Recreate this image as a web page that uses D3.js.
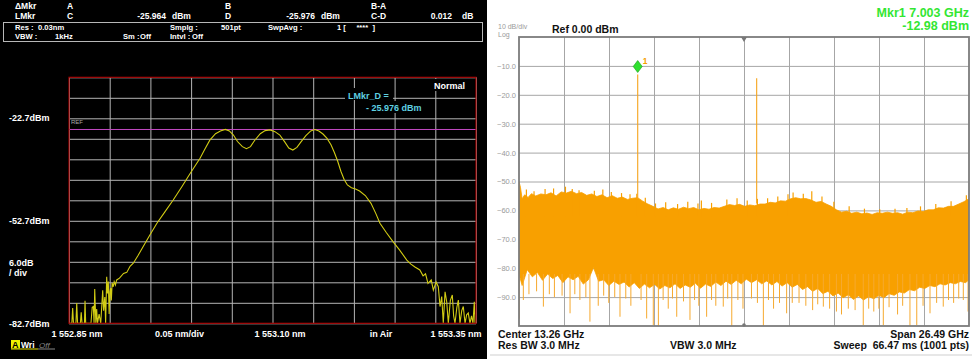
<!DOCTYPE html>
<html><head><meta charset="utf-8">
<script src="https://cdn.jsdelivr.net/npm/d3@7/dist/d3.min.js"></script>
<style>
body{margin:0;background:#fff}
text{font-family:"Liberation Sans",Arial,sans-serif;white-space:pre}
</style>
</head><body>
<svg id="chart" width="976" height="359"></svg>
<script>
// ---- left screen: optical spectrum (nm / dBm)
const osaNm = [1552.850,1552.8535,1552.8545,1552.8555,1552.8585,1552.8595,1552.8605,1552.8640,1552.8650,1552.8660,
  1552.8690,1552.8697,1552.8705,1552.8770,1552.8785,1552.8799,1552.8808,1552.8816,1552.8830,1552.8840,1552.8850,
  1552.8870,1552.8890,1552.8914,1552.8925,1552.8940,1552.8950,1552.8963,1552.8973,1552.8983,1552.8993,1552.9003,
  1552.9012,1552.9020,1552.9030,1552.9044,1552.9055,1552.9070,1552.9086,
  1552.912,1552.917,1552.921,1552.925,1552.929,1552.935,1552.941,1552.949,1552.958,1552.968,1552.978,1552.989,1552.999,
  1553.005,1553.011,1553.017,1553.023,1553.030,1553.036,1553.042,1553.047,1553.052,1553.057,1553.063,1553.068,1553.073,
  1553.078,1553.085,1553.091,1553.097,1553.103,1553.109,1553.115,1553.120,1553.125,1553.130,1553.135,1553.141,1553.147,
  1553.152,1553.157,1553.162,1553.167,1553.172,1553.176,1553.180,1553.184,1553.188,1553.192,1553.197,1553.202,1553.207,
  1553.214,1553.221,1553.227,1553.232,1553.240,1553.248,1553.256,1553.265,1553.270,1553.275,1553.281,1553.285,1553.288,
  1553.291,1553.295,1553.2976,1553.3010,1553.3037,1553.3058,1553.3079,1553.3098,1553.3120,1553.3140,1553.3160,1553.3185,
  1553.3209,1553.3225,1553.3242,1553.3265,1553.3283,1553.3303,1553.3325,1553.3344,1553.3365,1553.3385,1553.3405,1553.3426,
  1553.3445,1553.3463,1553.3479,1553.3488,1553.350];
const osaDbm = [-82.7,-82.7,-78.2,-82.7,-82.7,-76.8,-82.7,-82.7,-79.5,-82.7,
  -82.7,-76.1,-82.7,-82.7,-78.0,-77.8,-82.7,-72.7,-82.7,-78.5,-82.7,
  -80.0,-82.7,-73.0,-79.0,-75.0,-82.7,-69.1,-74.0,-70.5,-80.0,-73.5,
  -72.4,-76.0,-70.9,-72.0,-70.5,-71.5,-70.0,
  -69.5,-68.1,-67.8,-66.0,-65.1,-62.8,-60.3,-57.0,-53.4,-50.0,-46.6,-42.6,-38.8,
  -36.6,-34.4,-31.7,-29.1,-27.2,-26.4,-25.96,-26.4,-27.6,-29.5,-31.0,-31.6,-31.0,
  -29.2,-27.2,-26.3,-26.1,-26.6,-27.6,-29.6,-31.4,-32.0,-31.2,-29.6,-27.8,-26.4,
  -25.98,-26.4,-27.3,-28.6,-30.5,-32.7,-35.2,-38.2,-40.6,-42.2,-43.0,-43.4,-44.0,
  -45.3,-47.6,-50.6,-53.4,-56.2,-58.8,-61.2,-64.2,-65.4,-66.2,-67.1,-68.8,-68.2,
  -71.0,-70.0,-73.0,-70.6,-72.0,-77.8,-74.9,-82.7,-73.5,-76.4,-82.7,-76.0,
  -74.4,-80.5,-82.7,-78.0,-75.9,-82.7,-79.0,-77.8,-82.7,-80.2,-79.7,-82.7,
  -80.5,-82.7,-76.4,-82.7,-82.7];
const osaRef = -25.976;
const osaXTicks = ["1 552.85 nm","0.05 nm/div","1 553.10 nm","in Air","1 553.35 nm"];

// ---- right screen: RF spectrum (GHz / dBm)
const topGHz = [0.015,0.10,0.20,0.35,0.55,0.75,1.0,1.3,1.6,1.9,2.2,2.5,2.8,3.1,3.4,3.7,4.0,4.3,4.6,4.9,5.2,5.5,5.8,6.1,6.4,
  6.7,7.0,7.3,7.6,7.9,8.2,8.5,8.8,9.1,9.4,9.7,10.0,10.3,10.6,10.9,11.2,11.5,11.8,12.1,12.4,12.7,13.0,13.3,13.6,13.9,14.2,
  14.5,14.8,15.1,15.4,15.7,16.0,16.3,16.6,16.9,17.2,17.5,17.8,18.1,18.4,18.7,19.0,19.3,19.6,19.9,20.2,20.5,20.8,21.1,21.4,
  21.7,22.0,22.3,22.6,22.9,23.2,23.5,23.8,24.1,24.4,24.7,25.0,25.3,25.6,25.9,26.2,26.505];
const topDbm = [-50.0,-52.0,-56.0,-54.6,-55.5,-54.2,-55.0,-54.3,-54.6,-53.9,-55.0,-53.6,-54.0,-53.4,-54.2,-53.8,-54.8,-54.3,-55.2,
  -54.6,-55.6,-54.9,-55.8,-55.4,-56.2,-55.8,-55.6,-56.8,-57.8,-58.6,-59.5,-59.0,-59.8,-59.1,-59.6,-58.9,-59.4,-59.0,-59.8,-59.3,
  -59.6,-59.0,-59.2,-58.6,-58.0,-58.3,-57.9,-58.6,-58.1,-58.4,-57.8,-57.8,-57.2,-57.4,-56.7,-56.8,-56.0,-55.6,-56.0,-55.9,-56.4,
  -57.2,-56.9,-57.8,-58.6,-59.8,-60.6,-60.3,-61.0,-60.6,-61.2,-60.9,-61.4,-60.8,-61.0,-60.6,-61.0,-60.8,-61.3,-60.6,-60.8,-60.2,
  -60.4,-59.8,-59.8,-59.1,-59.2,-58.6,-58.6,-57.8,-57.0,-56.0];
const peakGHz = [0.45,0.9,1.55,2.05,2.75,3.15,3.55,4.45,4.95,5.45,6.05,6.55,6.95,7.45,8.05,8.65,9.35,9.95,10.55,10.75,11.35,
  12.25,12.85,13.45,14.05,14.65,15.25,15.85,16.15,16.75,17.25,17.85,18.55,19.45,20.35,21.25,22.15,22.85,23.65,24.55,25.45,26.35];
const peakDbm = [-52.8,-53.4,-52.6,-52.4,-51.8,-52.6,-53.0,-53.2,-52.8,-53.6,-54.0,-54.4,-54.2,-55.6,-57.6,-57.2,-57.8,-57.0,-57.6,
  -56.6,-57.4,-56.2,-55.8,-56.6,-56.0,-55.8,-55.2,-54.4,-53.8,-54.2,-53.4,-55.2,-57.0,-58.6,-59.4,-59.6,-59.4,-59.2,-58.6,-57.8,
  -56.8,-54.8];
const lowGHz = [0.015,0.2,0.5,0.8,1.1,1.4,1.7,2.0,2.3,2.6,2.9,3.2,3.5,3.8,4.1,4.4,4.7,5.0,5.3,5.6,5.9,6.2,6.5,6.8,7.1,7.4,7.7,
  8.0,8.3,8.6,8.9,9.2,9.5,9.8,10.1,10.4,10.7,11.0,11.3,11.6,11.9,12.2,12.5,12.8,13.1,13.4,13.7,14.0,14.3,14.6,14.9,15.2,15.5,
  15.8,16.1,16.4,16.7,17.0,17.3,17.6,17.9,18.2,18.5,18.8,19.1,19.4,19.7,20.0,20.3,20.6,20.9,21.2,21.5,21.8,22.1,22.4,22.7,
  23.0,23.3,23.6,23.9,24.2,24.5,24.8,25.1,25.4,25.7,26.0,26.3,26.505];
const lowDbm = [-82,-86,-80.5,-83,-81.5,-84.2,-82,-83.6,-82.5,-85,-83,-84,-82.8,-85.5,-84,-79.8,-84.5,-84,-86,-84.5,-85.6,-84.8,
  -86.5,-85,-87,-85.5,-86.8,-85.6,-87.2,-86,-86.8,-85.4,-87,-85.8,-86.6,-85.2,-86.9,-85.5,-86.3,-84.8,-86,-84.5,-85.6,-84.2,
  -85.4,-83.8,-85.0,-84,-85.4,-84.4,-85.8,-84.6,-86.2,-85,-86.6,-85.6,-87.4,-86.4,-88,-87,-88.8,-88,-89.6,-88.6,-90.2,-89.2,-90.8,
  -89.6,-91.0,-89.8,-90.6,-89.4,-90.2,-88.8,-89.4,-88.2,-88.6,-87.4,-87.8,-86.6,-87.0,-86,-86.4,-85.4,-85.8,-85,-85.4,-84.6,-85.0,-84];
const dipGHz = [0.02,0.27,0.6,1.05,1.45,1.8,2.1,2.55,3.02,3.3,3.6,3.95,4.19,4.68,5.0,5.3,5.65,5.96,6.3,6.6,7.2,7.53,7.92,8.22,
  8.5,8.8,9.05,9.30,9.7,10.08,10.35,10.6,11.06,11.35,11.6,12.04,12.3,12.54,12.9,13.2,13.7,14.05,14.40,14.7,15.0,15.35,15.77,
  16.1,16.5,16.9,17.3,17.6,17.93,18.3,18.7,19.0,19.4,19.8,20.28,20.6,20.9,21.2,21.46,21.8,22.3,22.6,23.03,23.43,23.8,24.21,
  24.6,24.99,25.3,25.6,25.9,26.17,26.45];
const dipDbm = [-97.5,-91,-89,-88,-93.3,-89,-90,-89.5,-95.6,-89,-91,-90,-98.5,-93,-89.5,-92,-90,-96.8,-90.5,-93,-91,-97.4,-99.7,
  -100,-91,-94,-90.5,-96.8,-91.5,-97.9,-91,-93,-96.8,-91,-93,-93.3,-90.5,-100,-91,-94,-90.5,-92,-100,-91,-94,-92,-95.6,
  -92,-92,-93,-94.5,-92.5,-93.3,-94,-95,-96,-94,-94.5,-99.7,-94,-95,-94,-99.7,-93.5,-96,-93,-100,-99.7,-93,-95.6,
  -92,-93.3,-91,-92,-90.5,-91,-95];
const toneGHz = [7.003, 14.006];
const toneDbm = [-12.98, -14.3];
const toneBase = [-56.0, -57.6];
const rfYTicks = [-10,-20,-30,-40,-50,-60,-70,-80,-90];

const svg = d3.select('#chart');

// ================= LEFT PANEL =================
const L = svg.append('g');
L.append('rect').attr('x',0).attr('y',0).attr('width',487).attr('height',359).attr('fill','#000');

const hdr = (x, y, t, anchor, fs) => L.append('text').attr('x',x).attr('y',y)
  .attr('fill','#fff').attr('font-size',fs||8.5).attr('font-weight','bold')
  .attr('text-anchor',anchor||'start').text(t);
hdr(15,9,'ΔMkr'); hdr(15,19,'LMkr');
hdr(67,9,'A'); hdr(67,19,'C');
hdr(166,19,'-25.964','end'); hdr(172,19,'dBm');
hdr(225,9,'B'); hdr(225,19,'D');
hdr(315,19,'-25.976','end'); hdr(321,19,'dBm');
hdr(371,9,'B-A'); hdr(371,19,'C-D');
hdr(452,19,'0.012','end'); hdr(462,19,'dB');
L.append('rect').attr('x',3.5).attr('y',22.5).attr('width',479).attr('height',19)
  .attr('fill','none').attr('stroke','#b8b8b8').attr('stroke-width',1);
const row1 = 30.2, row2 = 39.2, bfs = 7.6;
hdr(15,row1,'Res :','start',bfs); hdr(38,row1,'0.03nm','start',bfs);
hdr(15,row2,'VBW :','start',bfs); hdr(55,row2,'1kHz','start',bfs);
hdr(170,row1,'Smplg :','start',bfs); hdr(221,row1,'501pt','start',bfs);
hdr(268,row1,'SwpAvg :','start',bfs); hdr(337,row1,'1 [     ****  ]','start',bfs);
hdr(123,row2,'Sm :','start',bfs); hdr(140,row2,'Off','start',bfs);
hdr(170,row2,'Intvl :','start',bfs); hdr(192,row2,'Off','start',bfs);

const oMargin = {left:69, top:77.3, right:476, bottom:323.3};
const ox = d3.scaleLinear().domain([1552.85,1553.35]).range([oMargin.left,oMargin.right]);
const oy = d3.scaleLinear().domain([-82.7,-10.7]).range([oMargin.bottom,oMargin.top]);
const oW = oMargin.right-oMargin.left, oH = oMargin.bottom-oMargin.top;

const oxAxis = d3.axisBottom(ox).tickValues(d3.range(11).map(i=>1552.85+i*0.05))
  .tickSize(-oH).tickFormat('');
const oyAxis = d3.axisLeft(oy).tickValues(d3.range(13).map(i=>-82.7+i*6))
  .tickSize(-oW).tickFormat('');
L.append('g').attr('transform',`translate(0,${oMargin.bottom})`).call(oxAxis)
  .call(g=>g.select('.domain').remove())
  .call(g=>g.selectAll('line').attr('stroke','#b4b4b4').attr('stroke-width',1));
L.append('g').attr('transform',`translate(${oMargin.left},0)`).call(oyAxis)
  .call(g=>g.select('.domain').remove())
  .call(g=>g.selectAll('line').attr('stroke','#b4b4b4').attr('stroke-width',1));

// ref line
L.append('line').attr('x1',ox(1552.85)).attr('x2',ox(1553.35))
  .attr('y1',oy(osaRef)).attr('y2',oy(osaRef)).attr('stroke','#c048c0').attr('stroke-width',1);
L.append('text').attr('x',71).attr('y',124).attr('fill','#aaa').attr('font-size',6).text('REF');

// marker readout boxes
L.append('rect').attr('x',345).attr('y',88).attr('width',48).attr('height',12).attr('fill','#000');
L.append('rect').attr('x',364).attr('y',101).attr('width',62).attr('height',12).attr('fill','#000');
L.append('text').attr('x',348).attr('y',98.5).attr('fill','#5fd0e0').attr('font-size',9).attr('font-weight','bold').text('LMkr_D =');
L.append('text').attr('x',366).attr('y',111).attr('fill','#5fd0e0').attr('font-size',9).attr('font-weight','bold').text('- 25.976 dBm');
L.append('rect').attr('x',430).attr('y',79).attr('width',40).attr('height',12).attr('fill','#000');
L.append('text').attr('x',465).attr('y',88.5).attr('fill','#fff').attr('font-size',9).attr('font-weight','bold')
  .attr('text-anchor','end').text('Normal');

// trace
L.append('clipPath').attr('id','oclip').append('rect')
  .attr('x',oMargin.left).attr('y',oMargin.top).attr('width',oW).attr('height',oH);
const osaData = osaNm.map((v,i)=>({nm:v, dbm:osaDbm[i]}));
L.append('path').datum(osaData).attr('clip-path','url(#oclip)')
  .attr('fill','none').attr('stroke','#d2cc14').attr('stroke-width',1.1)
  .attr('d', d3.line().x(d=>ox(d.nm)).y(d=>oy(d.dbm)));

L.append('rect').attr('x',oMargin.left).attr('y',oMargin.top).attr('width',oW).attr('height',oH)
  .attr('fill','none').attr('stroke','#a00000').attr('stroke-width',1.2);

// y labels
const ylab = (y,t) => L.append('text').attr('x',9).attr('y',y).attr('fill','#fff')
  .attr('font-size',9).attr('font-weight','bold').text(t);
ylab(oy(-22.7)+3,'-22.7dBm');
ylab(oy(-52.7)+3,'-52.7dBm');
ylab(oy(-82.7)+4,'-82.7dBm');
ylab(266,'6.0dB'); ylab(276,'/ div');

// x labels
const xlabX = [ox(1552.85)+8, 179.5, ox(1553.10)+7.5, 381, ox(1553.35)-20];
osaXTicks.forEach((t,i)=>L.append('text').attr('x',xlabX[i]).attr('y',336.5)
  .attr('text-anchor','middle').attr('fill','#fff').attr('font-size',9).attr('font-weight','bold').text(t));

// A Wri Off
L.append('rect').attr('x',11).attr('y',340).attr('width',9).attr('height',8.5).attr('fill','#f0f000');
L.append('text').attr('x',12).attr('y',347.5).attr('fill','#000').attr('font-size',9).attr('font-weight','bold').text('A');
L.append('text').attr('x',21).attr('y',347.5).attr('fill','#fff').attr('font-size',8.5).attr('font-weight','bold').text('Wri');
L.append('text').attr('x',39).attr('y',347.5).attr('fill','#888').attr('font-size',8).attr('font-style','italic').text('Off');
L.append('line').attr('x1',11).attr('x2',38).attr('y1',349).attr('y2',349).attr('stroke','#e8e800');
L.append('line').attr('x1',38).attr('x2',55).attr('y1',349).attr('y2',349).attr('stroke','#888');

// ================= RIGHT PANEL =================
const R = svg.append('g');
R.append('rect').attr('x',487).attr('y',0).attr('width',489).attr('height',359).attr('fill','#fff');

const rM = {left:519, top:37, right:969, bottom:326};
const rx = d3.scaleLinear().domain([0.015,26.505]).range([rM.left,rM.right]);
const ry = d3.scaleLinear().domain([-100,0]).range([rM.bottom,rM.top]);
const rW = rM.right-rM.left, rH = rM.bottom-rM.top;

R.append('g').attr('transform',`translate(0,${rM.bottom})`)
  .call(d3.axisBottom(rx).tickValues(d3.range(1,10).map(i=>0.015+i*2.649)).tickSize(-rH).tickFormat(''))
  .call(g=>g.select('.domain').remove())
  .call(g=>g.selectAll('line').attr('stroke','#a6a6a6').attr('stroke-width',1));
R.append('g').attr('transform',`translate(${rM.left},0)`)
  .call(d3.axisLeft(ry).tickValues(rfYTicks).tickSize(-rW).tickPadding(3)
    .tickFormat(d=>d3.format('.1f')(d)))
  .call(g=>g.select('.domain').remove())
  .call(g=>g.selectAll('line').attr('stroke','#a6a6a6').attr('stroke-width',1))
  .call(g=>g.selectAll('text').attr('fill','#9a9a9a').attr('font-size',7.5)
    .attr('font-family','"Liberation Sans",Arial,sans-serif'));

R.append('clipPath').attr('id','rclip').append('rect')
  .attr('x',rM.left).attr('y',rM.top).attr('width',rW).attr('height',rH);
const rc = R.append('g').attr('clip-path','url(#rclip)');

// noise band
const band = topGHz.map((f,i)=>[f,topDbm[i]])
  .concat(lowGHz.map((f,i)=>[f,lowDbm[i]]).reverse());
rc.append('path').datum(band).attr('fill','#f8a000').attr('stroke','#f8a000').attr('stroke-width',0.8)
  .attr('d', d3.line().x(d=>rx(d[0])).y(d=>ry(d[1])).curve(d3.curveLinearClosed));

// small upward spikes on the top edge
rc.selectAll('.pk').data(peakGHz).join('line').attr('class','pk')
  .attr('x1',d=>rx(d)).attr('x2',d=>rx(d))
  .attr('y1',ry(-62)).attr('y2',(d,i)=>ry(peakDbm[i]))
  .attr('stroke','#f8a000').attr('stroke-width',1.2);

// downward noise spikes
rc.selectAll('.dip').data(dipGHz).join('line').attr('class','dip')
  .attr('x1',d=>rx(d)).attr('x2',d=>rx(d))
  .attr('y1',ry(-82)).attr('y2',(d,i)=>ry(dipDbm[i]))
  .attr('stroke','#f6a92e').attr('stroke-width',1);

// tones
rc.selectAll('.tone').data(toneGHz).join('line').attr('class','tone')
  .attr('x1',d=>rx(d)).attr('x2',d=>rx(d))
  .attr('y1',(d,i)=>ry(toneBase[i])).attr('y2',(d,i)=>ry(toneDbm[i]))
  .attr('stroke','#f6a41c').attr('stroke-width',1.1);

R.append('rect').attr('x',rM.left).attr('y',rM.top).attr('width',rW).attr('height',rH)
  .attr('fill','none').attr('stroke','#7c7c7c').attr('stroke-width',1.8);

// center markers
const cx = rx(13.26);
R.append('path').attr('d',`M${cx-3},${rM.top}L${cx+3},${rM.top}L${cx},${rM.top+5}Z`).attr('fill','#777');
R.append('circle').attr('cx',cx).attr('cy',rM.bottom-1).attr('r',1.8).attr('fill','#777');

// marker 1 diamond
const mx = rx(toneGHz[0]), my = ry(toneDbm[0]);
R.append('path').attr('d',`M${mx},${my-14}L${mx+4.5},${my-8}L${mx},${my-2}L${mx-4.5},${my-8}Z`)
  .attr('fill','#2ee02e').attr('stroke','#1a9a1a').attr('stroke-width',0.6);
R.append('text').attr('x',mx+5).attr('y',my-11).attr('fill','#f5a000').attr('font-size',8.5).attr('font-weight','bold').text('1');

// header texts
R.append('text').attr('x',498).attr('y',29).attr('fill','#9a9a9a').attr('font-size',7).text('10 dB/div');
R.append('text').attr('x',498).attr('y',37).attr('fill','#9a9a9a').attr('font-size',7).text('Log');
R.append('text').attr('x',552).attr('y',32.5).attr('fill','#111').attr('font-size',10.5).attr('font-weight','bold').text('Ref 0.00 dBm');
R.append('text').attr('x',969).attr('y',17).attr('text-anchor','end').attr('fill','#33e633')
  .attr('font-size',12.5).attr('font-weight','bold').text('Mkr1 7.003 GHz');
R.append('text').attr('x',969).attr('y',29.5).attr('text-anchor','end').attr('fill','#33e633')
  .attr('font-size',12.5).attr('font-weight','bold').text('-12.98 dBm');

// footer
const foot = (x,y,t,anchor) => R.append('text').attr('x',x).attr('y',y).attr('text-anchor',anchor||'start')
  .attr('fill','#111').attr('font-size',10.5).attr('font-weight','bold').text(t);
foot(498,337.5,'Center 13.26 GHz');
foot(498,348.5,'Res BW 3.0 MHz');
foot(670,348.5,'VBW 3.0 MHz');
foot(969,337.5,'Span 26.49 GHz','end');
foot(969,348.5,'Sweep  66.47 ms (1001 pts)','end');
R.append('line').attr('x1',490).attr('x2',972).attr('y1',355).attr('y2',355).attr('stroke','#cfcfcf');
</script>
</body></html>
